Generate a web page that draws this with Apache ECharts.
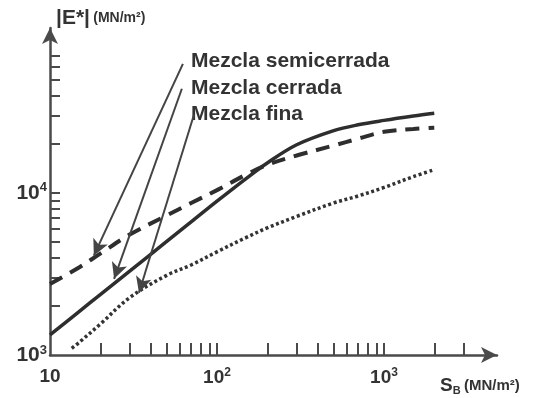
<!DOCTYPE html>
<html>
<head>
<meta charset="utf-8">
<style>
  html, body { margin: 0; padding: 0; background: #fff; }
  #chart { width: 542px; height: 398px; }
</style>
<script src="https://cdn.jsdelivr.net/npm/echarts@6/dist/echarts.min.js"></script>
</head>
<body>
<div id="chart"></div>
<script>
// Stress S_B (MN/m²) along the x axis
const sbValues = [10, 15, 20, 30, 50, 70, 100, 150, 200, 300, 500, 700, 1000, 1500, 2000];
const sbFina = [13.5, 15, 20, 30, 50, 70, 100, 150, 200, 300, 500, 700, 1000, 1500, 2000];

// |E*| (MN/m²) for each mix
const mezclaSemicerrada = [2740, 3480, 4220, 5530, 7260, 8660, 10400, 13000, 14900, 17000, 19600, 21600, 23800, 24800, 25200];
const mezclaCerrada = [1330, 1860, 2360, 3290, 5020, 6620, 8890, 12300, 15300, 19800, 24200, 26300, 28000, 29800, 31000];
const mezclaFina = [1100, 1200, 1550, 2260, 3100, 3590, 4330, 5310, 6080, 7160, 8670, 9570, 10800, 12600, 13900];

// Tick marks and labelled decades
const xTicks = [20, 30, 40, 50, 60, 70, 80, 90, 100, 200, 300, 400, 500, 600, 700, 800, 900, 1000, 2000, 3000];
const xLabels = [10, 100, 1000];
const yTicks = [2000, 3000, 4000, 5000, 6000, 7000, 8000, 9000, 10000, 20000, 30000, 40000, 50000, 60000, 70000];
const yLabels = [1000, 10000];

// Callout arrows: [label start, tip on the curve] in data units
const arrowSemicerrada = [[62.5, 62500], [18.3, 4100]];
const arrowCerrada = [[61.6, 43900], [24.2, 2950]];
const arrowFina = [[72.8, 30300], [34.1, 2420]];

const INK = '#333';
const FONT = '"Liberation Sans", Arial, sans-serif';

function pairs(xs, ys) { return xs.map((x, i) => [x, ys[i]]); }

function decadeLabel(v) {
  const p = Math.round(Math.log10(v));
  return p === 1 ? '10' : '10{sup|' + p + '}';
}

function callout(seg) {
  return {
    silent: true,
    animation: false,
    symbol: ['none', 'arrow'],
    symbolSize: [12, 16],
    label: { show: false },
    lineStyle: { color: '#444', width: 2, type: 'solid' },
    emphasis: { disabled: true },
    data: [[{ coord: seg[0] }, { coord: seg[1] }]]
  };
}

const chart = echarts.init(document.getElementById('chart'), null, { renderer: 'canvas' });

chart.setOption({
  animation: false,
  backgroundColor: '#fff',
  grid: { left: 50, right: 45, top: 28, bottom: 43, containLabel: false },
  xAxis: {
    type: 'log',
    logBase: 10,
    min: 10,
    max: 4750,
    name: '{s|S}{sub|B} {u|(MN/m²)}',
    nameLocation: 'end',
    nameGap: -57,
    nameTextStyle: {
      align: 'left',
      verticalAlign: 'top',
      padding: [20, 0, 0, 0],
      rich: {
        s: { fontSize: 19, fontWeight: 'bold', color: INK, fontFamily: FONT },
        sub: { fontSize: 11, fontWeight: 'bold', color: INK, fontFamily: FONT, padding: [10, 0, 0, 0] },
        u: { fontSize: 15, fontWeight: 'bold', color: INK, fontFamily: FONT }
      }
    },
    axisLine: {
      show: true,
      symbol: ['none', 'arrow'],
      symbolSize: [12, 16],
      lineStyle: { color: '#4a4a4a', width: 2.5 }
    },
    axisTick: {
      show: true,
      inside: true,
      length: 12,
      customValues: xTicks,
      lineStyle: { color: '#4a4a4a', width: 2 }
    },
    minorTick: { show: false },
    axisLabel: {
      show: true,
      customValues: xLabels,
      margin: 12,
      formatter: decadeLabel,
      color: INK,
      fontSize: 19,
      fontWeight: 'bold',
      fontFamily: FONT,
      rich: {
        sup: { fontSize: 12, fontWeight: 'bold', color: INK, fontFamily: FONT, padding: [0, 0, 9, 0] }
      }
    },
    splitLine: { show: false }
  },
  yAxis: {
    type: 'log',
    logBase: 10,
    min: 1000,
    max: 104000,
    name: '{big|\u007CE*\u007C} {small|(MN/m²)}',
    nameLocation: 'end',
    nameGap: 10,
    nameTextStyle: {
      align: 'left',
      verticalAlign: 'middle',
      padding: [0, 0, 0, 6],
      rich: {
        big: { fontSize: 21, fontWeight: 'bold', color: INK, fontFamily: FONT },
        small: { fontSize: 14, fontWeight: 'bold', color: INK, fontFamily: FONT }
      }
    },
    axisLine: {
      show: true,
      symbol: ['none', 'arrow'],
      symbolSize: [12, 16],
      lineStyle: { color: '#4a4a4a', width: 2.5 }
    },
    axisTick: {
      show: true,
      inside: true,
      length: 10,
      customValues: yTicks,
      lineStyle: { color: '#4a4a4a', width: 2 }
    },
    minorTick: { show: false },
    axisLabel: {
      show: true,
      customValues: yLabels,
      margin: 3,
      formatter: decadeLabel,
      color: INK,
      fontSize: 21,
      fontWeight: 'bold',
      fontFamily: FONT,
      rich: {
        sup: { fontSize: 13, fontWeight: 'bold', color: INK, fontFamily: FONT, padding: [0, 0, 10, 0] }
      }
    },
    splitLine: { show: false }
  },
  series: [
    {
      name: 'Mezcla semicerrada',
      type: 'line',
      data: pairs(sbValues, mezclaSemicerrada),
      smooth: 0.35,
      showSymbol: false,
      lineStyle: { color: '#2e2e2e', width: 4, type: [14, 9], cap: 'butt' },
      markLine: callout(arrowSemicerrada)
    },
    {
      name: 'Mezcla cerrada',
      type: 'line',
      data: pairs(sbValues, mezclaCerrada),
      smooth: 0.35,
      showSymbol: false,
      lineStyle: { color: '#2e2e2e', width: 3.5, type: 'solid' },
      markLine: callout(arrowCerrada)
    },
    {
      name: 'Mezcla fina',
      type: 'line',
      data: pairs(sbFina, mezclaFina),
      smooth: 0.35,
      showSymbol: false,
      lineStyle: { color: '#333', width: 3.5, type: [3, 2.6], cap: 'butt' },
      markLine: callout(arrowFina)
    }
  ],
  graphic: [
    { type: 'text', x: 191, y: 61, silent: true,
      style: { text: 'Mezcla semicerrada', fill: INK, font: 'bold 21px ' + FONT, verticalAlign: 'middle' } },
    { type: 'text', x: 191, y: 88, silent: true,
      style: { text: 'Mezcla cerrada', fill: INK, font: 'bold 21px ' + FONT, verticalAlign: 'middle' } },
    { type: 'text', x: 191, y: 114, silent: true,
      style: { text: 'Mezcla fina', fill: INK, font: 'bold 21px ' + FONT, verticalAlign: 'middle' } }
  ]
});
</script>
</body>
</html>
